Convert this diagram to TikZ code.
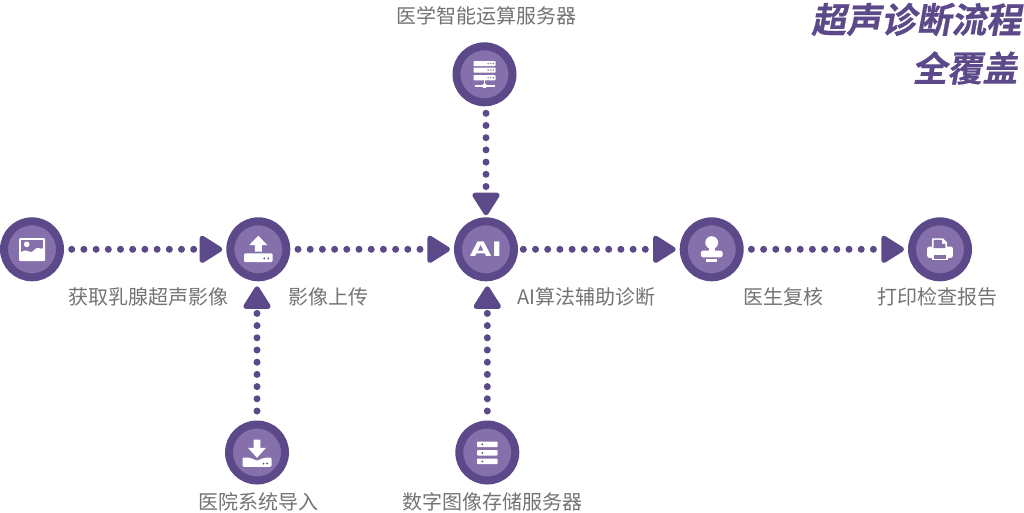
\documentclass[tikz,border=0pt]{standalone}
\usepackage{fontspec}
\usetikzlibrary{arrows.meta,calc}
\setmainfont{Noto Sans CJK SC}
\newfontfamily\titlefont[FakeSlant=0.18,FakeBold=0.6]{Noto Sans CJK SC Bold}
\newfontfamily\aifont{DejaVu Sans Bold}
\definecolor{pdark}{HTML}{5B4989}
\definecolor{pmid}{HTML}{8570AC}
\definecolor{labelgray}{HTML}{737373}
\tikzset{
  x=1pt,y=-1pt,
  stepnode/.style={circle,draw=pdark,fill=pmid,line width=8pt,minimum size=56pt,inner sep=0pt},
  flow/.style={draw=pdark,line width=7pt,line cap=round,dash pattern=on 0pt off 12.2pt,
    -{Triangle[length=25pt,width=30pt,round,line width=5pt,fill=pdark]}},
  lab/.style={font=\fontsize{20}{20}\selectfont,text=labelgray,inner sep=0pt},
  ttl/.style={font=\titlefont\fontsize{35}{36}\selectfont,text=pdark,inner sep=0pt,anchor=east},
  wht/.style={fill=white,draw=none},
  pin/.style={fill=pmid,draw=none},
  hol/.style={fill=pdark,draw=none}
}
\newcommand{\uparrowshape}{(0,-13.6) -- (9,-4.3) -- (3.5,-4.3) -- (3.5,2.3) -- (-3.5,2.3) -- (-3.5,-4.3) -- (-9,-4.3) -- cycle}
\newcommand{\downarrowshape}{(0,5.3) -- (9,-4.7) -- (3.4,-4.7) -- (3.4,-13) -- (-3.4,-13) -- (-3.4,-4.7) -- (-9,-4.7) -- cycle}
\begin{document}
\begin{tikzpicture}
\useasboundingbox (0,0) rectangle (1024,512);
% nodes
\node[stepnode] (img) at (32,249.3) {};
\node[stepnode] (upl) at (258.3,249.3) {};
\node[stepnode] (ai) at (486,249.3) {};
\node[stepnode] (stamp) at (711.7,249.3) {};
\node[stepnode] (prt) at (940,249.3) {};
\node[stepnode] (srv) at (484.5,74.3) {};
\node[stepnode] (dl) at (257,452.5) {};
\node[stepnode] (st) at (487.3,452.5) {};
% connectors
\draw[flow,shorten <=7.7pt,shorten >=4pt] (img.east) -- (upl.west);
\draw[flow,shorten <=7.7pt,shorten >=4pt] (upl.east) -- (ai.west);
\draw[flow,shorten <=5.3pt,shorten >=4pt] (ai.east) -- (stamp.west);
\draw[flow,shorten <=7.7pt,shorten >=4pt] (stamp.east) -- (prt.west);
\draw[flow,shorten <=7pt,shorten >=2pt] (ai.north |- srv.south) -- (ai.north);
\draw[flow,shorten <=9.5pt,shorten >=5pt] (dl.north) -- (dl.north |- upl.south);
\draw[flow,shorten <=9.5pt,shorten >=5pt] (st.north) -- (st.north |- ai.south);
% image icon
\begin{scope}[shift={(img.center)}]
  \fill[wht,rounded corners=1pt] (-12.8,-11.2) rectangle (13,11.7);
  \fill[pin] (-11.2,-9.6) rectangle (11.4,10.1);
  \fill[wht] (-11.2,3) .. controls (-7,0) and (-4,1.5) .. (-2,2.5) .. controls (1,4) and (3,-2) .. (6,-1.5) .. controls (8,-1) and (10,0) .. (11.4,-1) -- (11.4,10.1) -- (-11.2,10.1) -- cycle;
  \fill[wht] (-5.3,-5) circle (2.8);
\end{scope}
% upload icon
\begin{scope}[shift={(upl.center)}]
  \fill[wht,rounded corners=1.2pt] (-14.3,4) rectangle (14.3,12.7);
  \fill[wht] \uparrowshape;
  \fill[hol] (6,9) circle (1) (10,9) circle (1);
\end{scope}
% AI text
\node[font=\aifont\fontsize{20}{20}\selectfont,text=white,xscale=1.4,inner sep=0pt] (ailab) at (ai.center) {AI};
% stamp icon
\begin{scope}[shift={(stamp.center)}]
  \fill[wht] (0,-6.7) circle (6.4);
  \fill[wht] (-3.2,-3) rectangle (3.2,2);
  \fill[wht,rounded corners=1.5pt] (-10.8,1.3) rectangle (10.8,8);
  \fill[wht] (-5.7,9.4) rectangle (5.7,12.3);
\end{scope}
% printer icon
\begin{scope}[shift={(prt.center)}]
  \fill[wht,rounded corners=2pt] (-12.8,-2.7) rectangle (12.8,8.5);
  \fill[wht] (-8,-11) -- (3,-11) -- (7,-7) -- (7,0) -- (-8,0) -- cycle;
  \fill[pin] (-6.4,-9.4) -- (2,-9.4) -- (2,-5.5) -- (5.4,-5.5) -- (5.4,-1.2) -- (-6.4,-1.2) -- cycle;
  \fill[wht] (-8,3.5) rectangle (8,11);
  \fill[pin] (-6.4,5.2) rectangle (6.4,9.4);
\end{scope}
% server icon
\begin{scope}[shift={(srv.center)}]
  \foreach \a/\b in {-13.3/-8.3,-6.7/-1.7,0.9/6} {
    \fill[wht,rounded corners=0.6pt] (-11,\a) rectangle (11,\b);
    \fill[pin] (3.6,{(\a+\b)/2}) circle (0.8) (6.4,{(\a+\b)/2}) circle (0.8) (9,{(\a+\b)/2}) circle (0.8);
  }
  \fill[wht] (-0.9,6) rectangle (0.9,12);
  \fill[wht] (-10,11) rectangle (10,12.6);
  \fill[wht,rounded corners=0.5pt] (-1.8,9.5) rectangle (1.8,13.6);
\end{scope}
% download icon
\begin{scope}[shift={(dl.center)}]
  \fill[wht,rounded corners=1.2pt] (-14.5,5) rectangle (14.5,14.3);
  \fill[pin] (-10,4) -- (10,4) -- (0,8) -- cycle;
  \fill[wht] \downarrowshape;
  \fill[hol] (6.5,11) circle (1) (10.2,11) circle (1);
\end{scope}
% storage icon
\begin{scope}[shift={(st.center)}]
  \foreach \a/\b in {-11/-5.3,-2.4/3,6/11.7} {
    \fill[wht,rounded corners=0.8pt] (-10.2,\a) rectangle (10.2,\b);
    \fill[hol] (-5,{(\a+\b)/2}) circle (1);
  }
\end{scope}
% labels
\node[lab] (l1) at (148.5,297) {获取乳腺超声影像};
\node[lab] (l2) at (328,297) {影像上传};
\node[lab] (l3) at (586.5,297) {AI算法辅助诊断};
\node[lab] (l4) at (783,297) {医生复核};
\node[lab] (l5) at (937.5,297) {打印检查报告};
\node[lab] (l6) at (486.5,16) {医学智能运算服务器};
\node[lab] (l7) at (258,502) {医院系统导入};
\node[lab] (l8) at (492,502) {数字图像存储服务器};
\node[ttl] (t1) at (1021.5,19.5) {超声诊断流程};
\node[ttl] (t2) at (1017.5,68) {全覆盖};
\end{tikzpicture}
\end{document}
